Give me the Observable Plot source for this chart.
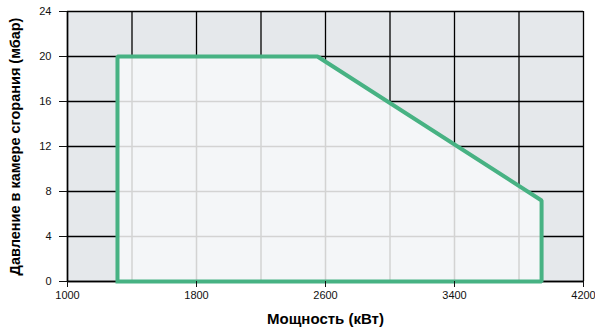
<!DOCTYPE html>
<html><head><meta charset="utf-8">
<script src="https://cdn.jsdelivr.net/npm/d3@7"></script>
<script src="https://cdn.jsdelivr.net/npm/@observablehq/plot@0.6"></script>
<style>
body{margin:0;background:#fff;}
#chart svg{display:block;}
</style>
</head><body><div id="chart"></div>
<script>
// Data
const powerKW = [1310, 1310, 2550, 3940, 3940];
const pressureMbar = [0, 20, 20, 7.2, 0];
const xTicks = [1000, 1800, 2600, 3400, 4200];
const yTicks = [0, 4, 8, 12, 16, 20, 24];
const xGrid = [1000, 1400, 1800, 2200, 2600, 3000, 3400, 3800, 4200];
const yGrid = [0, 4, 8, 12, 16, 20, 24];

const poly = powerKW.map((x, i) => ({x, y: pressureMbar[i]}));
const closed = poly.concat([poly[0]]);
const upper = poly.slice(1, 4); // upper boundary
const upperAt = x => {
  for (let i = 0; i < upper.length - 1; i++) {
    const a = upper[i], b = upper[i + 1];
    if (x >= a.x && x <= b.x) return a.y + (b.y - a.y) * (x - a.x) / (b.x - a.x);
  }
  return null;
};
const rightAt = y => {
  for (let i = 0; i < upper.length - 1; i++) {
    const a = upper[i], b = upper[i + 1];
    if (y <= Math.max(a.y, b.y) && y >= Math.min(a.y, b.y) && a.y !== b.y)
      return a.x + (b.x - a.x) * (y - a.y) / (b.y - a.y);
  }
  return upper[upper.length - 1].x;
};
const xMin = powerKW[0], xMax = powerKW[powerKW.length - 1];
const lastY = upper[upper.length - 1].y;
const innerV = xGrid.filter(x => x > xMin && x < xMax).map(x => ({x, y2: upperAt(x)}));
const innerH = yGrid.filter(y => y > 0 && y < upper[0].y).map(y => ({y, x1: xMin, x2: y <= lastY ? xMax : rightAt(y)}));

const chart = Plot.plot({
  width: 595, height: 333,
  marginLeft: 67, marginRight: 12, marginTop: 11, marginBottom: 52,
  style: {fontFamily: "Liberation Sans, Arial, sans-serif", fontSize: "11px", color: "#111", background: "#fff"},
  x: {domain: [1000, 4200], label: null},
  y: {domain: [0, 24], label: null},
  marks: [
    Plot.frame({fill: "#e5e8eb", stroke: null}),
    Plot.ruleX(xGrid, {stroke: "#000", strokeWidth: 1.3}),
    Plot.ruleY(yGrid, {stroke: "#000", strokeWidth: 1.3}),
    Plot.areaY(upper, {x: "x", y1: 0, y2: "y", fill: "#f4f6f8", curve: "linear"}),
    Plot.ruleX(innerV, {x: "x", y1: 0, y2: "y2", stroke: "#d3d3d3", strokeWidth: 1.5}),
    Plot.ruleY(innerH, {y: "y", x1: "x1", x2: "x2", stroke: "#d3d3d3", strokeWidth: 1.5}),
    Plot.ruleX([1000], {stroke: "#000", strokeWidth: 1.5}),
    Plot.ruleY([0], {stroke: "#000", strokeWidth: 1.5}),
    Plot.line(closed, {x: "x", y: "y", stroke: "#47b283", strokeWidth: 4, strokeLinejoin: "miter", strokeLinecap: "square"}),
    Plot.axisX({ticks: xTicks, tickSize: 6, tickPadding: 4, tickFormat: d => String(d), label: null}),
    Plot.axisY({ticks: yTicks, tickSize: 8, tickPadding: 8, label: null}),
    Plot.text(["Мощность (кВт)"], {frameAnchor: "bottom", dy: 42, fontSize: 15, fontWeight: "bold", fill: "#000"}),
    Plot.text(["Давление в камере сгорания (мбар)"], {frameAnchor: "left", dx: -52, rotate: -90, textAnchor: "middle", fontSize: 14.5, fontWeight: "bold", fill: "#000"})
  ]
});
document.getElementById("chart").appendChild(chart);
</script>
</body></html>
